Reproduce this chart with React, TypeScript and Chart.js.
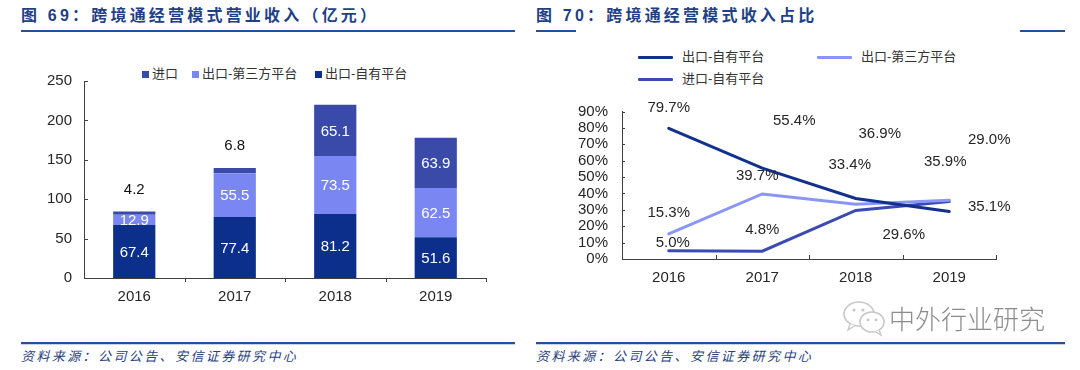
import React, { useEffect, useRef } from "react";
import { Chart, registerables } from "chart.js";

Chart.register(...registerables);

// ---------- data ----------
const years = ["2016", "2017", "2018", "2019"];

// 图69 跨境通经营模式营业收入（亿元）
const ownPlatformRevenue = [67.4, 77.4, 81.2, 51.6];
const thirdPartyRevenue = [12.9, 55.5, 73.5, 62.5];
const importRevenue = [4.2, 6.8, 65.1, 63.9];
const revenueAxisMax = 250;
const revenueAxisStep = 50;
const revenueLegend = ["进口", "出口-第三方平台", "出口-自有平台"];

// 图70 跨境通经营模式收入占比（%）
const ownPlatformShare = [79.7, 55.4, 36.9, 29.0];
const thirdPartyShare = [15.3, 39.7, 33.4, 35.9];
const importShare = [5.0, 4.8, 29.6, 35.1];
const shareAxisMax = 90;
const shareAxisStep = 10;
const shareLegend = ["出口-自有平台", "出口-第三方平台", "进口-自有平台"];

// ---------- style ----------
const NUM_FONT = "'Liberation Sans', Arial, 'Noto Sans CJK SC', sans-serif";
const CJK_FONT = "'Liberation Sans', 'Noto Sans CJK SC', sans-serif";
const NAVY = "#0d2f8c";
const PERI = "#7a87f2";
const MID = "#3a4aa8";
const LINE_NAVY = "#11318c";
const LINE_PERI = "#8a96f7";
const LINE_MID = "#3b4bb3";
const AXIS = "#404040";
const TEXT = "#262626";
const TITLE_BLUE = "#1f3f86";
const RULE_BLUE = "#234f9c";

// pixel offsets of the share labels relative to their points (styling only)
const shareLabelOffsets = [
  [[0, -21], [32, -47], [24, -65], [40, -72]],
  [[0, -21], [-5, -18], [-6, -39], [-4, -38]],
  [[4, -8], [0, -21], [48, 24], [40, 5]],
];

function tickMarks(xDir: number, yLen: number, xLen: number) {
  return {
    id: "tickMarks",
    afterDraw(chart: any) {
      const { ctx, chartArea, scales } = chart;
      const xs = scales.x;
      const ys = scales.y;
      ctx.save();
      ctx.strokeStyle = AXIS;
      ctx.lineWidth = 1;
      ctx.beginPath();
      ys.ticks.forEach((t: any) => {
        if (t.value === ys.min) return;
        const py = Math.round(ys.getPixelForValue(t.value)) + 0.5;
        ctx.moveTo(chartArea.left, py);
        ctx.lineTo(chartArea.left + yLen, py);
      });
      for (let i = 0; i < xs.ticks.length; i++) {
        const px = Math.round(xs.getPixelForValue(i + 0.5)) + 0.5;
        ctx.moveTo(px, chartArea.bottom);
        ctx.lineTo(px, chartArea.bottom + xDir * xLen);
      }
      ctx.stroke();
      ctx.restore();
    },
  };
}

const barLabels = {
  id: "barLabels",
  afterDatasetsDraw(chart: any) {
    const { ctx } = chart;
    const top = chart.data.datasets.length - 1;
    ctx.save();
    ctx.font = `15px ${NUM_FONT}`;
    ctx.textAlign = "center";
    ctx.textBaseline = "middle";
    chart.data.datasets.forEach((ds: any, di: number) => {
      const meta = chart.getDatasetMeta(di);
      meta.data.forEach((bar: any, i: number) => {
        const v = ds.data[i] as number;
        const { x, y, base } = bar.getProps(["x", "y", "base"], true);
        const h = Math.abs(base - y);
        if (di === top && h < 18) {
          ctx.fillStyle = "#111";
          ctx.fillText(v.toFixed(1), x, y - 22);
        } else {
          ctx.fillStyle = "#ffffff";
          ctx.fillText(v.toFixed(1), x, (y + base) / 2 + 1);
        }
      });
    });
    ctx.restore();
  },
};

const lineLabels = {
  id: "lineLabels",
  afterDraw(chart: any) {
    const { ctx } = chart;
    ctx.save();
    ctx.font = `15px ${NUM_FONT}`;
    ctx.textAlign = "center";
    ctx.textBaseline = "middle";
    ctx.fillStyle = TEXT;
    chart.data.datasets.forEach((ds: any, di: number) => {
      const meta = chart.getDatasetMeta(di);
      meta.data.forEach((pt: any, i: number) => {
        const v = ds.data[i] as number;
        const off = shareLabelOffsets[di][i];
        ctx.fillText(v.toFixed(1) + "%", pt.x + off[0], pt.y + off[1]);
      });
    });
    ctx.restore();
  },
};

function RevenueChart() {
  const ref = useRef<HTMLCanvasElement>(null);
  useEffect(() => {
    const chart = new Chart(ref.current!, {
      type: "bar",
      data: {
        labels: years,
        datasets: [
          { label: "出口-自有平台", data: ownPlatformRevenue, backgroundColor: NAVY },
          { label: "出口-第三方平台", data: thirdPartyRevenue, backgroundColor: PERI },
          { label: "进口", data: importRevenue, backgroundColor: MID },
        ],
      },
      options: {
        responsive: false,
        animation: false,
        layout: { padding: { left: 0, right: 29, top: 21, bottom: 2 } },
        plugins: { legend: { display: false }, tooltip: { enabled: false } },
        datasets: { bar: { categoryPercentage: 1, barPercentage: 0.42 } } as any,
        scales: {
          x: {
            stacked: true,
            grid: { display: false, drawTicks: false },
            border: { display: true, color: AXIS, width: 1 },
            ticks: { color: TEXT, font: { size: 15, family: NUM_FONT }, padding: 10 },
            afterFit: (s: any) => { s.height = 30; },
          },
          y: {
            stacked: true,
            min: 0,
            max: revenueAxisMax,
            grid: { display: false, drawTicks: false },
            border: { display: true, color: AXIS, width: 1 },
            ticks: { stepSize: revenueAxisStep, autoSkip: false, color: TEXT, font: { size: 15, family: NUM_FONT }, padding: 12 },
            afterFit: (s: any) => { s.width = 63; },
          },
        },
      },
      plugins: [tickMarks(1, 4, 4), barLabels],
    });
    return () => chart.destroy();
  }, []);
  return <canvas ref={ref} width={494} height={250} style={{ position: "absolute", left: 21, top: 60 }} />;
}

function ShareChart() {
  const ref = useRef<HTMLCanvasElement>(null);
  useEffect(() => {
    const chart = new Chart(ref.current!, {
      type: "line",
      data: {
        labels: years,
        datasets: [
          { label: "出口-自有平台", data: ownPlatformShare, borderColor: LINE_NAVY },
          { label: "出口-第三方平台", data: thirdPartyShare, borderColor: LINE_PERI },
          { label: "进口-自有平台", data: importShare, borderColor: LINE_MID },
        ],
      },
      options: {
        responsive: false,
        animation: false,
        layout: { padding: { left: 0, right: 69, top: 18, bottom: 11 } },
        plugins: { legend: { display: false }, tooltip: { enabled: false } },
        elements: {
          line: { borderWidth: 3, tension: 0, borderCapStyle: "round" },
          point: { radius: 0, hoverRadius: 0 },
        },
        scales: {
          x: {
            offset: true,
            grid: { display: false, drawTicks: false, offset: true },
            border: { display: true, color: AXIS, width: 1 },
            ticks: { color: TEXT, font: { size: 15, family: NUM_FONT }, padding: 10 },
            afterFit: (s: any) => { s.height = 30; },
          },
          y: {
            min: 0,
            max: shareAxisMax,
            grid: { display: false, drawTicks: false },
            border: { display: true, color: AXIS, width: 1 },
            ticks: {
              stepSize: shareAxisStep,
              autoSkip: false,
              color: TEXT,
              font: { size: 15, family: NUM_FONT, lineHeight: 1 },
              padding: 14,
              callback: (v: any) => v + "%",
            },
            afterFit: (s: any) => { s.width = 86; },
          },
        },
      },
      plugins: [tickMarks(-1, 3, 4), lineLabels],
    });
    return () => chart.destroy();
  }, []);
  return <canvas ref={ref} width={529} height={210} style={{ position: "absolute", left: 536, top: 90 }} />;
}

const abs = (l: number, t: number, extra: any = {}) => ({ position: "absolute" as const, left: l, top: t, ...extra });

function Title({ left, text }: { left: number; text: string }) {
  return (
    <div
      style={abs(left, 6, {
        fontFamily: "'Liberation Sans', 'Noto Sans CJK SC', sans-serif",
        fontWeight: 700,
        fontSize: 16,
        lineHeight: "20px",
        letterSpacing: 3.2,
        color: TITLE_BLUE,
        whiteSpace: "nowrap",
      })}
    >
      {text}
    </div>
  );
}

function Footer({ left, width }: { left: number; width: number }) {
  return (
    <>
      <div style={abs(left, 342, { width, height: 2, background: RULE_BLUE })} />
      <div style={abs(left, 344, { width, height: 1, background: "#c9d3e6" })} />
      <div
        style={abs(left, 348, {
          fontFamily: "'Noto Sans CJK SC', sans-serif",
          fontStyle: "italic",
          fontSize: 13,
          lineHeight: "16px",
          letterSpacing: 2.4,
          color: "#2a3f7e",
          whiteSpace: "nowrap",
        })}
      >
        资料来源：公司公告、安信证券研究中心
      </div>
    </>
  );
}

export default function App() {
  const legendText = { fontFamily: CJK_FONT, fontSize: 13, color: "#333", whiteSpace: "nowrap" as const, lineHeight: "16px" };
  const barColors = [MID, PERI, NAVY];
  const barLegendX = [142, 192, 315];
  const lineColors = [LINE_NAVY, LINE_PERI, LINE_MID];
  const lineLegendPos = [[638, 57], [817, 57], [638, 79]];
  return (
    <div style={{ position: "fixed", left: 0, top: 0, width: 1080, height: 370, background: "#fff", overflow: "hidden" }}>
      <Title left={21} text="图 69：跨境通经营模式营业收入（亿元）" />
      <div style={abs(21, 30, { width: 494, height: 2, background: RULE_BLUE })} />
      <Title left={536} text="图 70：跨境通经营模式收入占比" />
      <div style={abs(536, 30, { width: 40, height: 2, background: RULE_BLUE })} />
      <div style={abs(1020, 30, { width: 45, height: 2, background: RULE_BLUE })} />

      {revenueLegend.map((name, i) => (
        <div key={name} style={abs(barLegendX[i], 66, { display: "flex", alignItems: "center", ...legendText })}>
          <span style={{ display: "inline-block", width: 7, height: 7, background: barColors[i], marginRight: 3 }} />
          {name}
        </div>
      ))}

      {shareLegend.map((name, i) => (
        <div key={name} style={abs(lineLegendPos[i][0], lineLegendPos[i][1] - 8, { display: "flex", alignItems: "center", ...legendText })}>
          <span style={{ display: "inline-block", width: 35, height: 3, background: lineColors[i], marginRight: 9, borderRadius: 1 }} />
          {name}
        </div>
      ))}

      <RevenueChart />
      <ShareChart />

      <svg style={abs(842, 300)} width={46} height={38} viewBox="0 0 46 38">
        <ellipse cx={17} cy={14} rx={15} ry={12} fill="#fff" stroke="#c8c8c8" strokeWidth={1.6} />
        <path d="M8 24 L6 30 L13 25.5" fill="#fff" stroke="#c8c8c8" strokeWidth={1.4} />
        <circle cx={12} cy={10} r={1.6} fill="#c8c8c8" />
        <circle cx={21} cy={10} r={1.6} fill="#c8c8c8" />
        <ellipse cx={30} cy={22} rx={12} ry={10} fill="#fff" stroke="#c8c8c8" strokeWidth={1.6} />
        <path d="M37 30 L39 35 L33 31.5" fill="#fff" stroke="#c8c8c8" strokeWidth={1.4} />
        <circle cx={26} cy={20} r={1.4} fill="#c8c8c8" />
        <circle cx={34} cy={20} r={1.4} fill="#c8c8c8" />
      </svg>
      <div
        style={abs(889, 303, {
          fontFamily: "'Noto Sans CJK SC', sans-serif",
          fontWeight: 300,
          fontSize: 26,
          lineHeight: "30px",
          color: "#8c8c8c",
          whiteSpace: "nowrap",
        })}
      >
        中外行业研究
      </div>

      <Footer left={21} width={494} />
      <Footer left={536} width={529} />
    </div>
  );
}
